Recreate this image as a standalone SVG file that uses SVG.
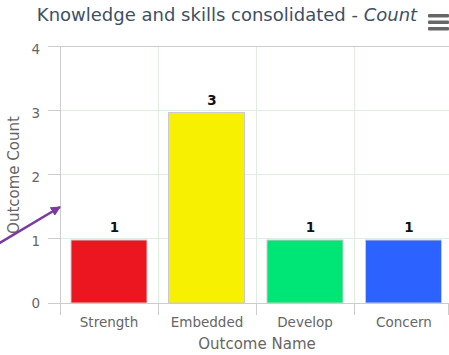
<svg xmlns="http://www.w3.org/2000/svg" width="449" height="355" viewBox="0 0 449 355">
<style>
.grid{stroke:#e0eee0;stroke-width:1;fill:none}
.axis{stroke:#cccccc;stroke-width:1;fill:none}
.bar{stroke:#cccccc;stroke-width:1}
.lbl{font-family:"DejaVu Sans",Verdana,sans-serif;font-size:13.5px;fill:#666666}
.val{font-family:"DejaVu Sans",Verdana,sans-serif;font-size:13.5px;font-weight:bold;fill:#111111}
.ttl{font-family:"DejaVu Sans",Verdana,sans-serif;font-size:15px;fill:#666666}
</style>
<defs>
<marker id="ah" markerWidth="10" markerHeight="10" refX="9" refY="5" orient="auto" markerUnits="userSpaceOnUse" viewBox="0 0 10 10">
<path d="M0,0 L10,5 L0,10 z" fill="#7b3a9e"/>
</marker>
</defs>
<rect width="449" height="355" fill="#ffffff"/>
<g id="title">
<text x="227" y="21" text-anchor="middle" font-family="DejaVu Sans,Verdana,sans-serif" font-size="18" fill="#3e4f63">Knowledge and skills consolidated - <tspan font-style="italic">Count</tspan></text>
</g>
<g id="menu" fill="#666666">
<rect x="428" y="14" width="21" height="3.5" rx="1"/>
<rect x="428" y="20.5" width="21" height="3.5" rx="1"/>
<rect x="428" y="27" width="21" height="3.5" rx="1"/>
</g>
<g id="gridlines">
<line class="grid" x1="60" y1="110.5" x2="451" y2="110.5"/>
<line class="grid" x1="60" y1="174.5" x2="451" y2="174.5"/>
<line class="grid" x1="60" y1="238.5" x2="451" y2="238.5"/>
<line class="grid" x1="158.5" y1="46" x2="158.5" y2="303"/>
<line class="grid" x1="256.5" y1="46" x2="256.5" y2="303"/>
<line class="grid" x1="354.5" y1="46" x2="354.5" y2="303"/>
<line class="axis" x1="60" y1="46.5" x2="451" y2="46.5"/>
</g>
<g id="axes">
<line class="axis" x1="60.5" y1="46" x2="60.5" y2="315"/>
<line class="axis" x1="48" y1="303.5" x2="451" y2="303.5"/>
<line class="axis" x1="48" y1="46.5" x2="60" y2="46.5"/>
<line class="axis" x1="48" y1="110.5" x2="60" y2="110.5"/>
<line class="axis" x1="48" y1="174.5" x2="60" y2="174.5"/>
<line class="axis" x1="48" y1="238.5" x2="60" y2="238.5"/>
<line class="axis" x1="158.5" y1="303" x2="158.5" y2="315"/>
<line class="axis" x1="256.5" y1="303" x2="256.5" y2="315"/>
<line class="axis" x1="354.5" y1="303" x2="354.5" y2="315"/>
<line class="axis" x1="448.5" y1="303" x2="448.5" y2="315"/>
<text class="lbl" x="40" y="54" text-anchor="end">4</text>
<text class="lbl" x="40" y="118" text-anchor="end">3</text>
<text class="lbl" x="40" y="182" text-anchor="end">2</text>
<text class="lbl" x="40" y="246" text-anchor="end">1</text>
<text class="lbl" x="40" y="308" text-anchor="end">0</text>
<text class="ttl" transform="translate(19,175) rotate(-90)" text-anchor="middle">Outcome Count</text>
<text class="ttl" x="257" y="349" text-anchor="middle">Outcome Name</text>
</g>
<g id="bar-strength">
<rect class="bar" x="71" y="240" width="76" height="63" fill="#ec1620"/>
<text class="val" x="114.5" y="232" text-anchor="middle">1</text>
<text class="lbl" x="109" y="327" text-anchor="middle">Strength</text>
</g>
<g id="bar-embedded">
<rect class="bar" x="168.5" y="112.5" width="76" height="190.5" fill="#f7f000"/>
<text class="val" x="212" y="104.5" text-anchor="middle">3</text>
<text class="lbl" x="207" y="327" text-anchor="middle">Embedded</text>
</g>
<g id="bar-develop">
<rect class="bar" x="267" y="240" width="76" height="63" fill="#00e676"/>
<text class="val" x="310.5" y="232" text-anchor="middle">1</text>
<text class="lbl" x="305" y="327" text-anchor="middle">Develop</text>
</g>
<g id="bar-concern">
<rect class="bar" x="365.5" y="240" width="76" height="63" fill="#2c62ff"/>
<text class="val" x="409" y="232" text-anchor="middle">1</text>
<text class="lbl" x="404" y="327" text-anchor="middle">Concern</text>
</g>
<g id="connectors">
<line x1="-2" y1="244" x2="60" y2="207" stroke="#7b3a9e" stroke-width="2.5" marker-end="url(#ah)"/>
</g>
</svg>
